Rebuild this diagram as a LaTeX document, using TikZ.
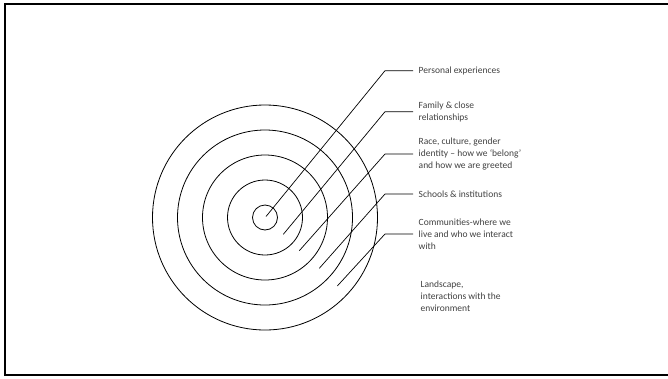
\documentclass[tikz,border=0pt]{standalone}
\usepackage{fontspec}
\setmainfont{Carlito}
\begin{document}
\begin{tikzpicture}[x=1pt,y=-1pt,
  ring/.style={draw=black,line width=0.8pt},
  leader/.style={draw=black,line width=0.7pt},
  lbl/.style={anchor=west,align=left,inner sep=0pt,text=black!75,font=\fontsize{9.5}{11.8}\selectfont}]
\useasboundingbox (0,0) rectangle (668,378);
\draw[line width=2pt] (668,3.7) -- (5,3.7) -- (5,375) -- (668,375);
\coordinate (c) at (265,217.5);
\foreach \r in {12.5,37.5,62.5,87.5,112.5}{\draw[ring] (c) circle[radius=\r];}
% leader start points
\coordinate (s1) at (266,216.5);
\coordinate (s2) at (283.3,234.3);
\coordinate (s3) at (299.3,250.7);
\coordinate (s4) at (319.3,268.3);
\coordinate (s5) at (337.3,286);
% corners
\coordinate (k1) at (385,70.7);
\coordinate (k2) at (385,111.7);
\coordinate (k3) at (385,154);
\coordinate (k4) at (385,194);
\coordinate (k5) at (385,234);
% labels
\node[lbl] (t1) at (418.5,70.7) {Personal experiences};
\node[lbl] (t2) at (418.5,111.7) {Family \& close\\relationships};
\node[lbl] (t3) at (418.5,154) {Race, culture, gender\\identity -- how we ‘belong’\\and how we are greeted};
\node[lbl] (t4) at (418.5,194) {Schools \& institutions};
\node[lbl] (t5) at (418.5,234) {Communities-where we\\live and who we interact\\with};
\node[lbl] (t6) at (420.5,296) {Landscape,\\interactions with the\\environment};
\foreach \i in {1,...,5}{
  \draw[leader] (s\i) -- (k\i) -- ([xshift=-5.5pt]t\i.west |- k\i);
}
\end{tikzpicture}
\end{document}
